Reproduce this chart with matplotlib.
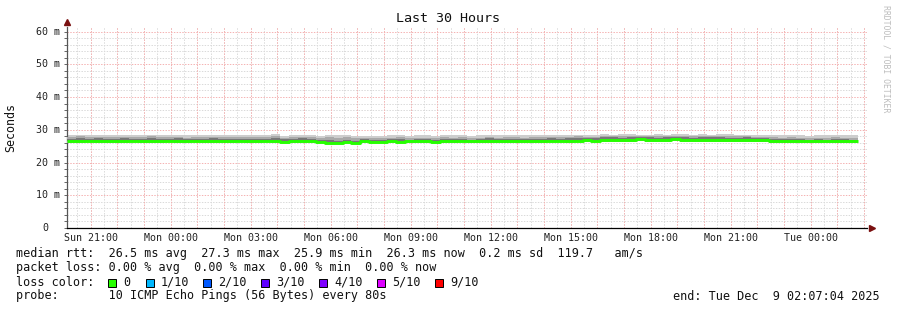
import numpy as np
import matplotlib
matplotlib.use("Agg")
import matplotlib.pyplot as plt
from matplotlib.patches import Rectangle

# ---------------- data ----------------
title = "Last 30 Hours"
start_offset_h = 0.0          # hours from window start (Sun 20:07:04)
step_min = 20                 # minutes per smoke step
window_h = 30

median_ms = [26.6, 26.5, 26.6, 26.5, 26.6, 26.5, 26.5, 26.6, 26.5, 26.6,
             26.5, 26.6, 26.5, 26.5, 26.6, 26.5, 26.6, 26.5, 26.5, 26.6,
             26.5, 26.5, 26.6, 26.5, 26.4, 26.5, 26.5, 26.5, 26.4, 26.0,
             25.9, 26.4, 25.9, 26.5, 26.4, 26.4, 26.5, 26.4, 26.5, 26.5,
             26.5, 26.4, 26.5, 26.5, 26.6, 26.5, 26.5, 26.6, 26.5, 26.5,
             26.6, 26.5, 26.5, 26.6, 26.6, 26.7, 26.6, 26.7, 26.8, 26.7,
             26.9, 27.0, 26.9, 27.0, 27.1, 27.0, 26.9, 27.0, 27.1, 26.9,
             26.8, 26.9, 27.0, 26.9, 26.8, 26.9, 27.0, 26.9, 26.8, 26.7,
             26.6, 26.6, 26.5, 26.5, 26.6, 26.5, 26.5, 26.5, 26.5]

smoke_hi = [28.3, 28.4, 28.3, 28.5, 28.5, 28.4, 28.3, 28.4, 28.3, 28.5,
            28.4, 28.3, 28.5, 28.4, 28.3, 28.3, 28.5, 28.4, 28.3, 28.4,
            28.5, 28.3, 28.3, 28.6, 28.2, 28.3, 28.4, 28.3, 28.2, 28.5,
            28.4, 28.5, 28.1, 28.2, 28.1, 28.1, 28.3, 28.3, 28.2, 28.3,
            28.3, 28.2, 28.3, 28.3, 28.4, 28.2, 28.3, 28.5, 28.3, 28.3,
            28.4, 28.3, 28.3, 28.4, 28.5, 28.4, 28.5, 28.5, 28.4, 28.5,
            28.6, 28.5, 28.6, 28.6, 28.5, 28.5, 28.6, 28.5, 28.6, 28.6,
            28.5, 28.6, 28.5, 28.6, 28.6, 28.5, 28.5, 28.4, 28.4, 28.3,
            28.3, 28.4, 28.3, 28.2, 28.3, 28.3, 28.4, 28.3, 28.3]

smoke_mid = [27.8, 28.0, 27.7, 27.9, 27.8, 27.8, 27.9, 27.7, 27.8, 28.0,
             27.7, 27.8, 27.9, 27.6, 27.7, 27.8, 27.9, 27.8, 27.7, 27.7,
             27.8, 27.7, 27.8, 28.0, 27.6, 27.7, 27.9, 27.7, 27.6, 27.8,
             27.6, 27.7, 27.4, 27.5, 27.4, 27.5, 27.6, 27.7, 27.5, 27.6,
             27.6, 27.5, 27.7, 27.6, 27.8, 27.5, 27.6, 27.9, 27.6, 27.7,
             27.7, 27.6, 27.7, 27.8, 27.9, 27.8, 27.9, 28.0, 27.8, 27.9,
             28.1, 28.0, 28.1, 28.2, 28.0, 28.1, 28.2, 28.0, 28.1, 28.2,
             28.0, 28.1, 28.0, 28.2, 28.1, 28.0, 28.0, 27.9, 27.8, 27.7,
             27.6, 27.7, 27.6, 27.5, 27.6, 27.5, 27.7, 27.6, 27.5]

smoke_inner = [27.3, 27.5, 27.2, 27.4, 27.3, 27.2, 27.4, 27.3, 27.2, 27.5,
               27.2, 27.3, 27.4, 27.1, 27.2, 27.3, 27.5, 27.3, 27.1, 27.2,
               27.3, 27.1, 27.2, 27.5, 27.1, 27.1, 27.4, 27.2, 27.0, 26.8,
               26.7, 27.0, 26.6, 27.1, 26.9, 27.0, 27.1, 27.2, 27.0, 27.1,
               27.1, 27.0, 27.2, 27.1, 27.3, 27.0, 27.1, 27.4, 27.1, 27.2,
               27.2, 27.1, 27.2, 27.3, 27.4, 27.3, 27.4, 27.5, 27.4, 27.5,
               27.7, 27.8, 27.6, 27.8, 27.9, 27.7, 27.6, 27.8, 27.9, 27.7,
               27.5, 27.7, 27.8, 27.7, 27.5, 27.6, 27.7, 27.6, 27.4, 27.3,
               27.1, 27.2, 27.1, 27.0, 27.1, 27.0, 27.2, 27.1, 27.0]

smoke_lo = [26.1, 26.0, 26.2, 26.1, 26.1, 26.0, 26.1, 26.2, 26.1, 26.0,
            26.1, 26.2, 26.0, 26.1, 26.2, 26.1, 26.0, 26.1, 26.1, 26.2,
            26.0, 26.1, 26.2, 26.0, 26.0, 26.1, 26.1, 26.0, 26.0, 25.6,
            25.5, 25.9, 25.5, 26.0, 25.9, 26.0, 26.1, 26.0, 26.1, 26.1,
            26.0, 26.0, 26.1, 26.1, 26.2, 26.0, 26.1, 26.1, 26.0, 26.1,
            26.1, 26.0, 26.0, 26.1, 26.2, 26.2, 26.1, 26.2, 26.3, 26.2,
            26.3, 26.4, 26.2, 26.4, 26.5, 26.3, 26.2, 26.4, 26.5, 26.2,
            26.2, 26.3, 26.4, 26.3, 26.2, 26.3, 26.4, 26.3, 26.2, 26.1,
            26.1, 26.0, 26.0, 26.1, 26.1, 26.0, 26.0, 26.1, 26.0]

x_tick_hours = [0.8822, 3.8822, 6.8822, 9.8822, 12.8822, 15.8822, 18.8822, 21.8822, 24.8822, 27.8822]
x_tick_labels = ["Sun 21:00", "Mon 00:00", "Mon 03:00", "Mon 06:00", "Mon 09:00",
                 "Mon 12:00", "Mon 15:00", "Mon 18:00", "Mon 21:00", "Tue 00:00"]
y_tick_values = [0, 10, 20, 30, 40, 50, 60]
y_tick_labels = ["0", "10 m", "20 m", "30 m", "40 m", "50 m", "60 m"]

legend_lines = [
    "median rtt:  26.5 ms avg  27.3 ms max  25.9 ms min  26.3 ms now  0.2 ms sd  119.7   am/s",
    "packet loss: 0.00 % avg  0.00 % max  0.00 % min  0.00 % now",
]
loss_labels = ["0", "1/10", "2/10", "3/10", "4/10", "5/10", "9/10"]
loss_colors = ["#26ff00", "#00b8ff", "#0059ff", "#5e00ff", "#7e00ff", "#dd00ff", "#ff0000"]
probe_text = "probe:       10 ICMP Echo Pings (56 Bytes) every 80s"
end_text = "end: Tue Dec  9 02:07:04 2025"
watermark = "RRDTOOL / TOBI OETIKER"

# ---------------- figure ----------------
W, H = 897, 310
MONO = "DejaVu Sans Mono"
LEG_FS = 8.5
fig = plt.figure(figsize=(W / 100, H / 100), dpi=100)
fig.patch.set_facecolor("white")

def fx(x):
    return x / W

def fy(y):
    return 1 - y / H

ax_top, ax_bot, ax_left, ax_right = 26.6, 228, 67, 867
ymax = 61.5
ax = fig.add_axes([fx(ax_left), fy(ax_bot), (ax_right - ax_left) / W, (ax_bot - ax_top) / H])
ax.set_xlim(0, window_h)
ax.set_ylim(0, ymax)
ax.set_facecolor("white")

n = len(median_ms)
step_h = step_min / 60.0
t = start_offset_h + np.arange(n) * step_h
med = np.array(median_ms)
lo = np.array(smoke_lo)
hi = np.array(smoke_hi)
mid = np.array(smoke_mid)
inner = np.array(smoke_inner)

# grid
GRID_MINOR = "#dadada"
GRID_MAJOR = "#f5b3b3"
DOT = (0, (1.4, 1.4))
minor_x = np.arange(0.3822, window_h, 0.5)
hour_x = np.arange(0.8822, window_h, 1.0)
for xv in minor_x:
    ax.axvline(xv, color=GRID_MINOR, lw=0.72, ls=DOT, zorder=0)
for xv in hour_x:
    ax.axvline(xv, color=GRID_MAJOR, lw=0.72, ls=DOT, zorder=0.5)
for yv in np.arange(2, 62, 2):
    if yv % 10:
        ax.axhline(yv, color=GRID_MINOR, lw=0.72, ls=DOT, zorder=0)
for yv in np.arange(10, 61, 10):
    ax.axhline(yv, color=GRID_MAJOR, lw=0.72, ls=DOT, zorder=0.5)

# smoke
ax.bar(t, hi - lo, bottom=lo, width=step_h, align="edge", color="#cdcdcd", linewidth=0, zorder=2)
ax.bar(t, mid - lo, bottom=lo, width=step_h, align="edge", color="#a9a9a9", linewidth=0, zorder=3)
ax.bar(t, inner - med, bottom=med, width=step_h, align="edge", color="#777777", linewidth=0, zorder=4)

# median line
ax.step(np.append(t, t[-1] + step_h), np.append(med, med[-1]), where="post",
        color="#26ff00", lw=2.1, zorder=5, solid_capstyle="butt")

# axes
for s in ["top", "right"]:
    ax.spines[s].set_visible(False)
ax.spines["left"].set_color("#555555")
ax.spines["bottom"].set_color("#000000")
ax.spines["left"].set_linewidth(0.9)
ax.spines["bottom"].set_linewidth(0.9)
ax.plot([0], [63.0], marker="^", color="#7a1010", ms=3.8, clip_on=False, zorder=6)
ax.plot([30.2], [0], marker=">", color="#7a1010", ms=3.8, clip_on=False, zorder=6)

ax.set_yticks(np.arange(0, 62, 2), minor=True)
ax.set_yticks(y_tick_values)
ax.set_yticklabels([])
ax.tick_params(axis="y", which="both", length=2.5, width=0.7, color="#666666", direction="out")
ax.set_xticks(x_tick_hours)
ax.set_xticklabels(x_tick_labels, fontfamily=MONO, fontsize=7.2, color="#222222")
ax.tick_params(axis="x", which="major", length=0, pad=3.5)

# y labels placed manually (rrdtool alignment)
for v, lab in zip(y_tick_values, y_tick_labels):
    ypix = ax_bot - v * (ax_bot - ax_top) / ymax
    xr = 48 if lab == "0" else 60
    fig.text(fx(xr), fy(ypix), lab, ha="right", va="center",
             fontfamily=MONO, fontsize=7.2, color="#222222")

# title, ylabel, watermark
fig.text(fx(448), fy(19), title, ha="center", va="center", fontfamily=MONO, fontsize=9.6, color="#111111")
fig.text(fx(11), fy(127), "Seconds", ha="center", va="center", rotation=90,
         fontfamily=MONO, fontsize=8.4, color="#111111")
fig.text(fx(886), fy(5), watermark, ha="center", va="top", rotation=-90,
         fontfamily=MONO, fontsize=5.9, color="#bdbdbd")

# legend
fig.text(fx(16), fy(254), legend_lines[0], ha="left", va="center", fontfamily=MONO, fontsize=LEG_FS, color="#111111")
fig.text(fx(16), fy(268), legend_lines[1], ha="left", va="center", fontfamily=MONO, fontsize=LEG_FS, color="#111111")
fig.text(fx(16), fy(282), "loss color:", ha="left", va="center", fontfamily=MONO, fontsize=LEG_FS, color="#111111")
box_x = [108, 146, 203, 261, 319, 377, 435]
for bx, lab, col in zip(box_x, loss_labels, loss_colors):
    fig.patches.append(Rectangle((fx(bx), fy(286.5)), 8 / W, 8 / H, transform=fig.transFigure,
                                 facecolor=col, edgecolor="#000000", lw=0.7))
    fig.text(fx(bx + 15), fy(282), lab, ha="left", va="center", fontfamily=MONO, fontsize=LEG_FS, color="#111111")
fig.text(fx(16), fy(296), probe_text, ha="left", va="center", fontfamily=MONO, fontsize=LEG_FS, color="#111111")
fig.text(fx(880), fy(296), end_text, ha="right", va="center", fontfamily=MONO, fontsize=LEG_FS, color="#111111")

fig.savefig("out.png", dpi=100, facecolor="white")
